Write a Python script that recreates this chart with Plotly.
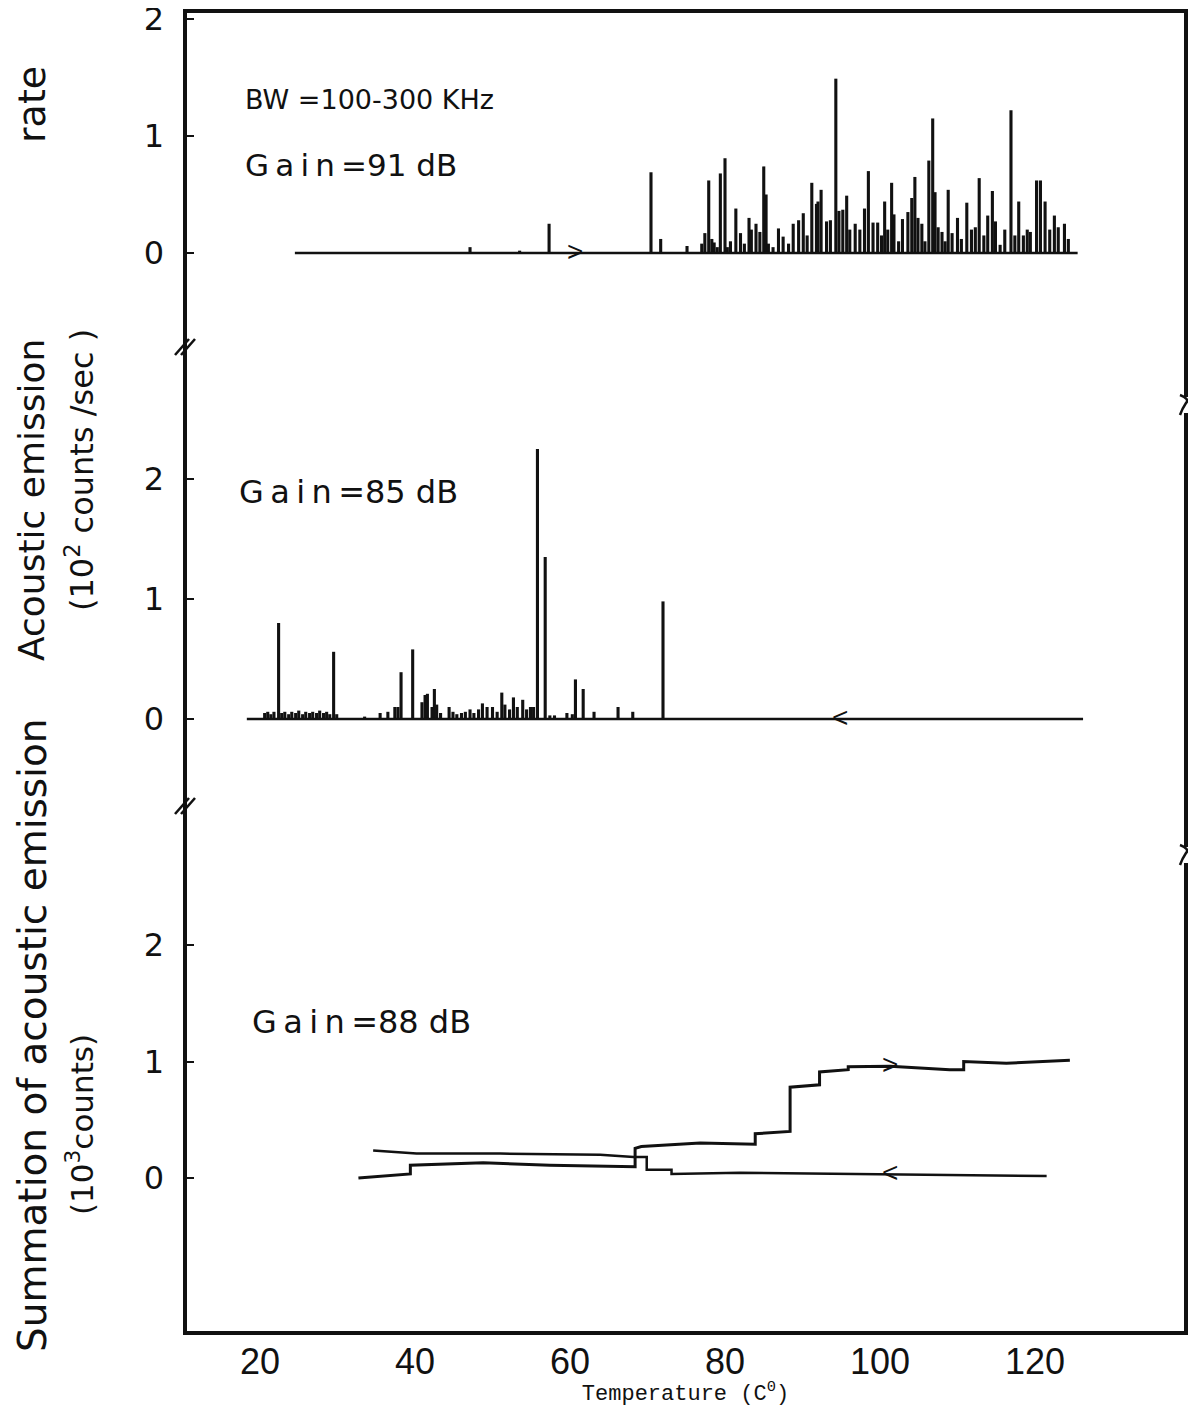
import plotly.graph_objects as go

# ---------------- data ----------------
# Panel 1: heating, Gain = 91 dB (10^2 counts/sec)
heat_rate_T = [47.1, 53.5, 57.3, 70.45, 71.7, 75.1, 77.0, 77.4, 77.9, 78.3, 78.6, 79.0, 79.4, 80.0,
               80.3, 80.7, 81.4, 82.0, 82.5, 83.1, 83.4, 84.0, 84.5, 85.0, 85.3, 85.6, 86.2, 86.9,
               87.5, 88.2, 88.8, 89.5, 90.1, 90.6, 91.2, 91.8, 92.0, 92.4, 93.1, 93.6, 94.3, 94.7,
               95.2, 95.7, 96.1, 96.8, 97.4, 98.0, 98.5, 99.1, 99.7, 100.2, 100.6, 101.0, 101.5,
               101.8, 102.4, 102.9, 103.6, 104.1, 104.5, 104.9, 105.4, 105.8, 106.3, 106.8, 107.1,
               107.5, 108.0, 108.4, 108.8, 109.3, 110.0, 110.5, 111.2, 111.8, 112.3, 112.8, 113.4,
               113.9, 114.5, 114.9, 115.5, 116.1, 116.9, 117.4, 117.9, 118.5, 119.0, 119.4, 120.2,
               120.7, 121.3, 121.9, 122.5, 123.0, 123.8, 124.3]
heat_rate = [0.05, 0.02, 0.25, 0.69, 0.12, 0.06, 0.08, 0.17, 0.62, 0.12, 0.09, 0.05, 0.68, 0.81,
             0.05, 0.10, 0.38, 0.17, 0.08, 0.30, 0.20, 0.25, 0.18, 0.74, 0.50, 0.08, 0.05, 0.21,
             0.14, 0.08, 0.25, 0.28, 0.34, 0.15, 0.60, 0.42, 0.44, 0.54, 0.27, 0.28, 1.49, 0.36,
             0.37, 0.49, 0.20, 0.25, 0.20, 0.38, 0.70, 0.26, 0.26, 0.15, 0.44, 0.20, 0.60,
             0.33, 0.10, 0.29, 0.35, 0.47, 0.65, 0.30, 0.25, 0.10, 0.79, 1.15, 0.52,
             0.22, 0.18, 0.10, 0.54, 0.17, 0.30, 0.12, 0.43, 0.20, 0.22, 0.64, 0.15,
             0.32, 0.53, 0.27, 0.07, 0.20, 1.22, 0.15, 0.44, 0.15, 0.20, 0.18, 0.62,
             0.62, 0.44, 0.20, 0.32, 0.22, 0.25, 0.12]
heat_base_T = [24.5, 125.5]

# Panel 2: cooling, Gain = 85 dB (10^2 counts/sec)
cool_rate_T = [20.6, 21.0, 21.4, 21.8, 22.4, 22.8, 23.2, 23.7, 24.1, 24.6, 25.0, 25.5, 25.9, 26.4,
               26.8, 27.3, 27.7, 28.2, 28.6, 29.0, 29.5, 29.9, 33.5, 35.5, 36.5, 37.4, 37.8, 38.2,
               39.7, 40.9, 41.3, 41.6, 42.2, 42.5, 42.8, 43.3, 44.4, 44.9, 45.4, 46.0, 46.5, 47.1,
               47.6, 48.2, 48.7, 49.3, 50.0, 50.6, 51.2, 51.6, 52.2, 52.7, 53.2, 53.9, 54.4, 54.9,
               55.3, 55.8, 56.8, 57.4, 58.0, 59.6, 60.3, 60.7, 61.7, 63.1, 66.2, 68.1, 72.0]
cool_rate = [0.05, 0.06, 0.04, 0.06, 0.80, 0.05, 0.06, 0.04, 0.06, 0.05, 0.07, 0.04, 0.06, 0.05,
             0.06, 0.05, 0.07, 0.05, 0.06, 0.04, 0.56, 0.04, 0.02, 0.05, 0.06, 0.10, 0.10, 0.39,
             0.58, 0.14, 0.20, 0.21, 0.10, 0.25, 0.12, 0.05, 0.10, 0.06, 0.04, 0.05, 0.06, 0.08,
             0.05, 0.08, 0.13, 0.10, 0.10, 0.06, 0.22, 0.12, 0.08, 0.18, 0.10, 0.16, 0.08, 0.10,
             0.10, 2.25, 1.35, 0.03, 0.03, 0.05, 0.04, 0.33, 0.25, 0.06, 0.10, 0.06, 0.98]
cool_base_T = [18.3, 126.2]

# Panel 3: summation, Gain = 88 dB (10^3 counts)
sum_heat_T = [32.7, 39.4, 39.4, 45.8, 48.8, 57.4, 68.4, 68.4, 69.2, 76.8, 83.9, 83.9, 88.4, 88.4,
              92.2, 92.2, 95.9, 95.9, 101.3, 109.0, 110.8, 110.8, 116.3, 124.5]
sum_heat = [0.0, 0.035, 0.11, 0.126, 0.13, 0.11, 0.097, 0.255, 0.27, 0.30, 0.29, 0.38, 0.40, 0.78,
            0.80, 0.91, 0.93, 0.955, 0.96, 0.93, 0.93, 1.0, 0.985, 1.01]
sum_cool_T = [121.5, 101.3, 81.9, 73.1, 73.1, 69.9, 69.9, 68.2, 63.9, 51.0, 40.2, 34.6]
sum_cool = [0.017, 0.034, 0.045, 0.034, 0.07, 0.07, 0.18, 0.18, 0.20, 0.21, 0.21, 0.235]

x_ticks = [20, 40, 60, 80, 100, 120]
y_ticks = [0, 1, 2]

# ---------------- layout geometry ----------------
# page body margin offsets the figure by 8 px; work in target-page pixels
OFF = 8
W, H = 1196 - 2 * OFF, 1415 - 2 * OFF
FRAME_L, FRAME_R, FRAME_T, FRAME_B = 185, 1186, 11, 1333
ML = FRAME_L - OFF
MR = W - (FRAME_R - OFF)
MT = FRAME_T - OFF
MB = H - (FRAME_B - OFF)
PH = FRAME_B - FRAME_T
PW = FRAME_R - FRAME_L

def fy(p):
    return (FRAME_B - p) / PH

def fx(p):
    return (p - FRAME_L) / PW

# panel pixel geometry: (top, bottom, zero, px per unit)
panels = [(FRAME_T, 345, 253, 117.0), (345, 805, 719, 120.0), (805, FRAME_B, 1178, 116.5)]

def yrange(top, bottom, zero, unit):
    return [-(bottom - zero) / unit, (zero - top) / unit]

BLACK = "#111111"
FONT = "DejaVu Sans"

fig = go.Figure()

def bars(xs, ys, yax):
    fig.add_trace(go.Bar(x=xs, y=ys, width=0.4, marker=dict(color=BLACK, line=dict(width=0)),
                         yaxis=yax, showlegend=False))

def line(xs, ys, yax, w=2.5):
    fig.add_trace(go.Scatter(x=xs, y=ys, mode="lines", line=dict(color=BLACK, width=w),
                             yaxis=yax, showlegend=False))

line(heat_base_T, [0, 0], "y")
bars(heat_rate_T, heat_rate, "y")
line(cool_base_T, [0, 0], "y2")
bars(cool_rate_T, cool_rate, "y2")
line(sum_heat_T, sum_heat, "y3", 3)
line(sum_cool_T, sum_cool, "y3", 2.5)

# direction arrows
arrows = [(60.6, 0, "y", ">"), (94.9, 0, "y2", "<"), (101.3, 0.96, "y3", ">"), (101.3, 0.034, "y3", "<")]
for ax_, ay_, yr, ch in arrows:
    fig.add_annotation(x=ax_, y=ay_, xref="x", yref=yr, text=ch, showarrow=False,
                       font=dict(family="Liberation Sans", size=28, color=BLACK), yshift=2)

yaxis_common = dict(tickvals=y_ticks, ticktext=[str(v) for v in y_ticks], ticks="inside", ticklen=9,
                    tickwidth=2, tickcolor=BLACK, showgrid=False, zeroline=False, showline=False,
                    tickfont=dict(family=FONT, size=32, color=BLACK), anchor="x", automargin=False,
                    ticklabelstandoff=20, ticklabeloverflow="allow")

layout_axes = {}
names = ["yaxis", "yaxis2", "yaxis3"]
for name, (top, bottom, zero, unit) in zip(names, panels):
    d = dict(yaxis_common)
    d["domain"] = [fy(bottom), fy(top)]
    d["range"] = yrange(top, bottom, zero, unit)
    layout_axes[name] = d

xr = [10 + (FRAME_L - 182.5) / 7.75, 10 + (FRAME_R - 182.5) / 7.75]

fig.update_layout(
    width=W, height=H, margin=dict(l=ML, r=MR, t=MT, b=MB, autoexpand=False),
    paper_bgcolor="white", plot_bgcolor="white", barmode="overlay", showlegend=False,
    xaxis=dict(range=xr, tickvals=x_ticks, ticks="", showgrid=False, zeroline=False, showline=False,
               anchor="y3", automargin=False,
               tickfont=dict(family="Liberation Sans", size=36, color=BLACK),
               ticklabelstandoff=4, ticklabeloverflow="allow",
               title=dict(text="Temperature (C<sup>0</sup>)",
                          font=dict(family="Liberation Mono", size=22, color=BLACK), standoff=0)),
    xaxis2=dict(range=xr, tickvals=x_ticks, ticks="inside", ticklen=9, tickwidth=2, tickcolor=BLACK,
                showticklabels=False, showgrid=False, zeroline=False, showline=False,
                overlaying="x", anchor="y", side="top", automargin=False),
    **layout_axes,
)

# frame
fig.add_shape(type="rect", xref="paper", yref="paper", x0=0, x1=1, y0=0, y1=1,
              line=dict(color=BLACK, width=4), layer="above")

# axis break marks (left) and right-edge breaks
for p in (347, 806):
    for dx in (-3, 3):
        fig.add_shape(type="line", xref="paper", yref="paper",
                      x0=fx(FRAME_L - 7 + dx), y0=fy(p + 8), x1=fx(FRAME_L + 7 + dx), y1=fy(p - 8),
                      line=dict(color=BLACK, width=2.5), layer="above")
for p in (405, 855):
    fig.add_shape(type="line", xref="paper", yref="paper", x0=1, x1=1, y0=fy(p + 8), y1=fy(p - 8),
                  line=dict(color="white", width=6), layer="above")
    fig.add_shape(type="path", xref="paper", yref="paper",
                  path=f"M {1 - 6/PW} {fy(p - 10)} Q {1 + 4/PW} {fy(p - 6)} {1} {fy(p - 2)} "
                       f"Q {1 - 4/PW} {fy(p + 4)} {1 - 6/PW} {fy(p + 10)}",
                  line=dict(color=BLACK, width=2.5), layer="above")

# panel texts
SP = "\u2009"
texts = [("BW =100-300 KHz", 243, 100, 27),
         (f"G{SP}a{SP}i{SP}n{SP}=91 dB", 243, 165, 31),
         (f"G{SP}a{SP}i{SP}n{SP}=85 dB", 237, 492, 32),
         (f"G{SP}a{SP}i{SP}n{SP}=88 dB", 250, 1022, 32)]
for t, px, py, sz in texts:
    fig.add_annotation(x=fx(px), y=fy(py), xref="paper", yref="paper", text=t, showarrow=False,
                       xanchor="left", yanchor="middle", font=dict(family=FONT, size=sz, color=BLACK))

# y titles
ytitles = [("Summation of acoustic emission", 32, 1035, 39),
           ("Acoustic emission", 32, 500, 36),
           ("rate", 32, 105, 38),
           ("(10<sup>3</sup>counts)", 80, 1125, 31),
           ("(10<sup>2</sup> counts /sec )", 80, 470, 32)]
for t, px, py, sz in ytitles:
    fig.add_annotation(x=fx(px), y=fy(py), xref="paper", yref="paper", text=t, showarrow=False,
                       textangle=-90, xanchor="center", yanchor="middle",
                       font=dict(family=FONT, size=sz, color=BLACK))

fig.write_html("out.html")
